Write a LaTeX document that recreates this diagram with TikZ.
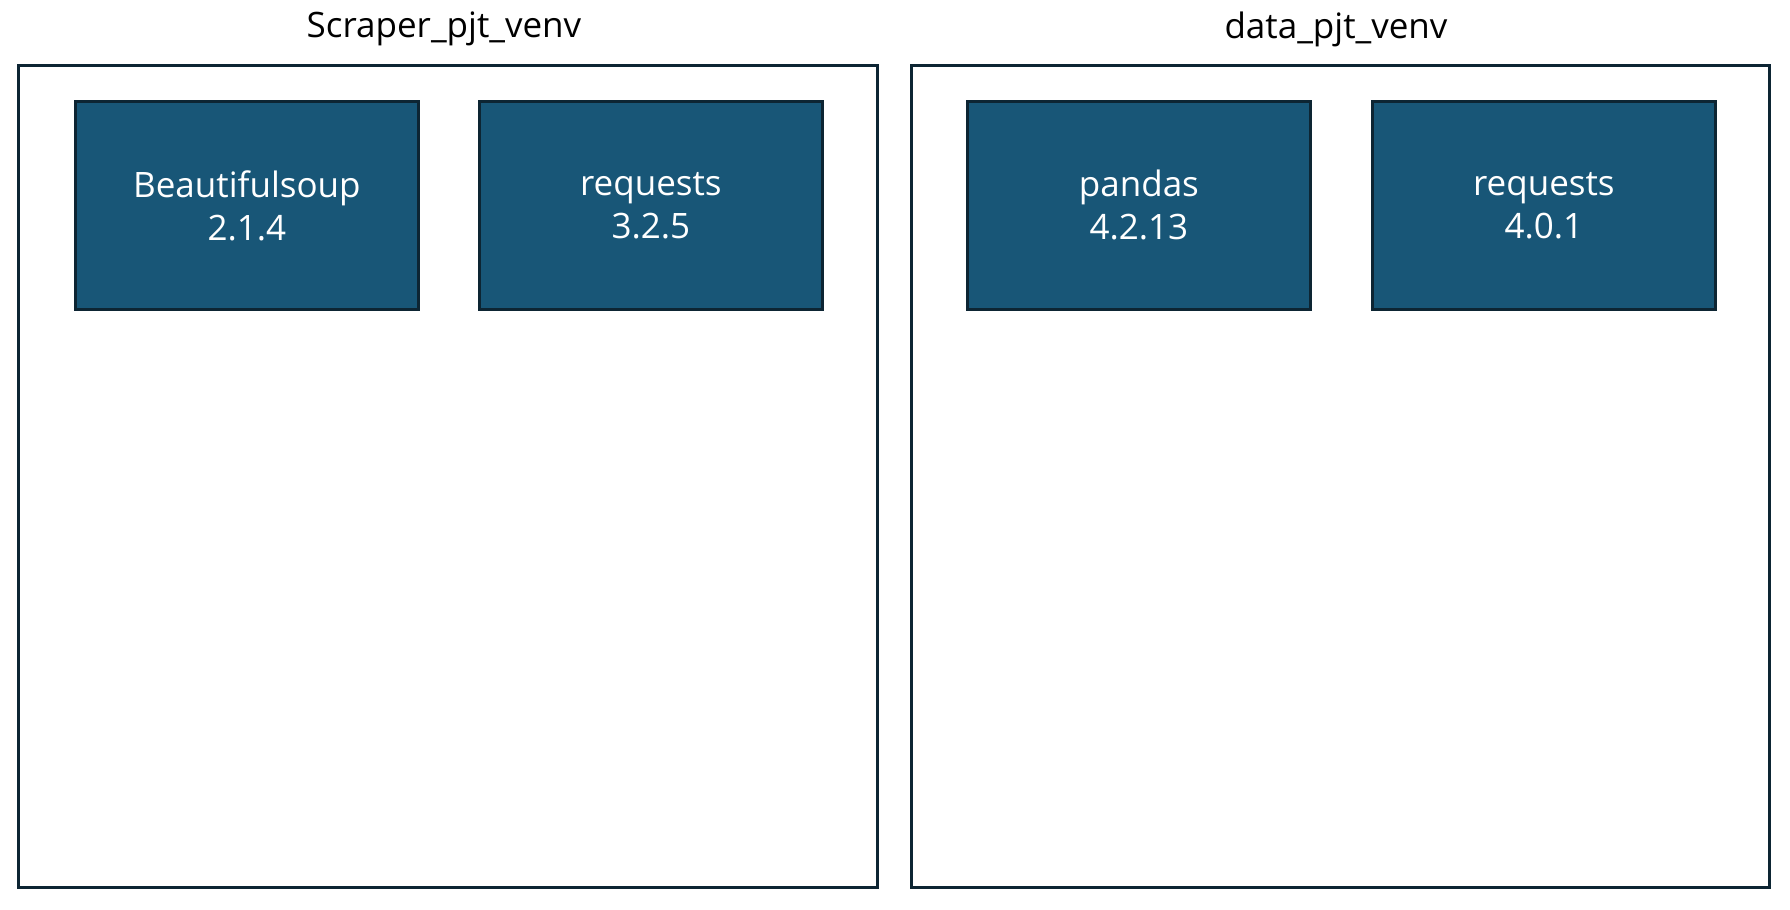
\documentclass[tikz,border=0pt]{standalone}
\usepackage{fontspec}
\setmainfont{Open Sans}
\definecolor{boxfill}{HTML}{185677}
\definecolor{edge}{HTML}{0D2533}
\tikzset{
  container/.style={draw=edge, line width=1.5pt, fill=white, anchor=north west, inner sep=0pt},
  pkg/.style={draw=edge, line width=1.4pt, fill=boxfill, anchor=north west, inner sep=0pt,
    minimum width=171.5pt, minimum height=104pt, text=white, align=center,
    font=\fontsize{17.5}{21.5}\selectfont},
  title/.style={font=\fontsize{17.5}{21}\selectfont, text=black}
}
\begin{document}
\begin{tikzpicture}[x=0.5pt,y=-0.5pt]
\useasboundingbox (0,0) rectangle (1790,910);
\node[container, minimum width=429.5pt, minimum height=411pt] (left) at (17,64) {};
\node[container, minimum width=429pt, minimum height=411pt] (right) at (910,64) {};
\node[title] (ltitle) at (444,29) {Scraper\_pjt\_venv};
\node[title] (rtitle) at (1336,29) {data\_pjt\_venv};
\node[pkg] (bs) at (74,100) {Beautifulsoup\\2.1.4};
\node[pkg] (req1) at (478,100) {requests\\3.2.5};
\node[pkg] (pd) at (966,100) {pandas\\4.2.13};
\node[pkg] (req2) at (1371,100) {requests\\4.0.1};
\end{tikzpicture}
\end{document}
